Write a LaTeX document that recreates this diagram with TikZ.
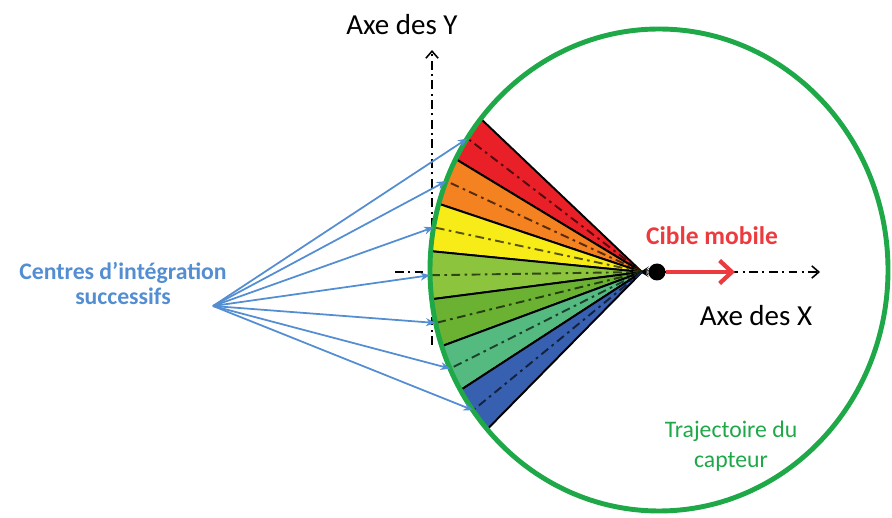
\documentclass[tikz,border=0pt]{standalone}
\usepackage{fontspec}
\setmainfont{Carlito}
\usetikzlibrary{arrows.meta}

\definecolor{secRed}{RGB}{234,32,40}
\definecolor{secOrange}{RGB}{244,130,32}
\definecolor{secYellow}{RGB}{248,236,24}
\definecolor{secLime}{RGB}{140,196,62}
\definecolor{secGreen}{RGB}{108,178,50}
\definecolor{secTeal}{RGB}{84,186,128}
\definecolor{secBlue}{RGB}{56,96,176}
\definecolor{rayBlue}{RGB}{84,142,210}
\definecolor{trajGreen}{RGB}{30,168,72}
\definecolor{cibleRed}{RGB}{236,58,62}

\tikzset{
  axis/.style={line width=0.9pt, dash pattern=on 5pt off 2.5pt on 1.2pt off 2.5pt,
    -{Straight Barb[length=4pt,width=7pt]}},
  midline/.style={line width=1.1pt, dash pattern=on 5pt off 2.5pt on 1.5pt off 2.5pt},
  ray/.style={rayBlue, line width=1pt, -{Stealth[length=5.5pt,width=4.5pt]}},
}

\begin{document}
\begin{tikzpicture}[x=0.02cm, y=0.02cm]
  \useasboundingbox (0,0) rectangle (892,517);

  % Axes
  \coordinate (ybot) at (432,172);
  \coordinate (ytop) at (432,467);
  \draw[axis] (ybot) -- (ytop);
  \coordinate (xleft) at (395,245);
  \coordinate (xright) at (820,245);
  \draw[axis] (xleft) -- (xright);

  % Sectors of integration
  \coordinate (apex) at (642,245);
  \foreach \a/\c [count=\i] in {141/secRed, 152.5/secOrange, 164/secYellow,
      175.5/secLime, 187/secGreen, 198.5/secTeal, 210/secBlue} {
    \filldraw[fill=\c, draw=black, line width=1.1pt]
      (apex) -- ({659+229*cos(\a)},{247+240*sin(\a)})
      arc[start angle=\a, delta angle=11.5, x radius=229, y radius=240] -- cycle;
    \coordinate (m\i) at ({659+229*cos(\a+5.75)},{247+240*sin(\a+5.75)});
    \draw[midline, \c!35!black] (apex) -- (m\i);
  }

  % Sensor trajectory
  \draw[trajGreen, line width=2.8pt] (659,247) ellipse [x radius=229, y radius=241];

  % Successive integration centres
  \coordinate (src) at (213,211);
  \foreach \i in {1,...,7}
    \draw[ray] (src) -- (m\i);

  % Moving target
  \node[circle, fill=black, inner sep=0pt, minimum size=0.34cm] (cible) at (657,245) {};
  \coordinate (vtip) at (735,245);
  \draw[cibleRed, line width=2.4pt, -{Straight Barb[length=7pt,width=13pt]}] (cible) -- (vtip);

  % Labels
  \node[font=\fontsize{16.5}{20}\selectfont] (ylab) at (402,492) {Axe des Y};
  \node[font=\fontsize{16.5}{20}\selectfont] (xlab) at (756,201) {Axe des X};
  \node[font=\fontsize{14.5}{17}\selectfont\bfseries, text=cibleRed] (ciblelab) at (712,281) {Cible mobile};
  \node[font=\fontsize{13.5}{14.2}\selectfont\bfseries, text=rayBlue, align=center] (centres) at (123,234)
    {Centres d’intégration\\successifs};
  \node[font=\fontsize{13.5}{17}\selectfont, text=trajGreen, align=center] (trajlab) at (731,71)
    {Trajectoire du\\capteur};
\end{tikzpicture}
\end{document}
